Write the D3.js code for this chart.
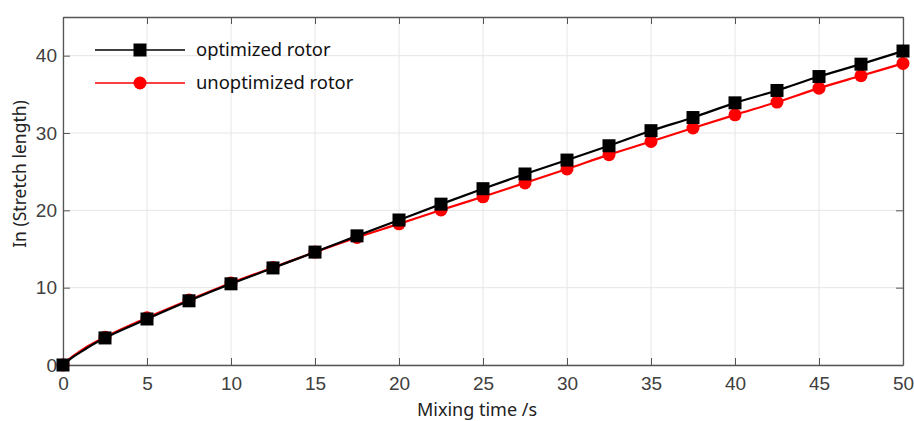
<!doctype html>
<meta charset="utf-8">
<title>Stretch length</title>
<script src="https://cdn.jsdelivr.net/npm/d3@7"></script>
<style>
body { margin: 0; background: #fff; }
</style>
<body>
<script>
// marker positions (s)
var markerTimes = [0, 2.5, 5, 7.5, 10, 12.5, 15, 17.5, 20, 22.5, 25, 27.5, 30, 32.5, 35, 37.5, 40, 42.5, 45, 47.5, 50];
var optimized = [0, 3.5, 5.95, 8.3, 10.5, 12.55, 14.6, 16.7, 18.75, 20.8, 22.8, 24.7, 26.5, 28.35, 30.3, 32.0, 33.9, 35.5, 37.3, 38.9, 40.6];
var unoptimized = [0, 3.6, 6.1, 8.4, 10.6, 12.6, 14.6, 16.5, 18.25, 20.05, 21.75, 23.55, 25.35, 27.2, 28.9, 30.65, 32.35, 34.0, 35.8, 37.4, 39.0];
// extra curve points near the origin
var earlyTimes = [0.5, 1, 1.5];
var earlyOpt = [0.9, 1.6, 2.3];
var earlyUnopt = [1.0, 1.75, 2.45];

var xTicks = [0, 5, 10, 15, 20, 25, 30, 35, 40, 45, 50];
var yTicks = [0, 10, 20, 30, 40];

var width = 914, height = 421;
var m = {left: 63, right: 11, top: 17, bottom: 56};

var svg = d3.select('body').append('svg')
  .attr('width', width)
  .attr('height', height);

var x = d3.scaleLinear().domain([0, 50]).range([m.left, width - m.right]);
var y = d3.scaleLinear().domain([0, 45]).range([height - m.bottom, m.top]);

// grid
svg.append('g').selectAll('line.gx').data(xTicks).enter().append('line')
  .attr('x1', d => x(d)).attr('x2', d => x(d))
  .attr('y1', y(45)).attr('y2', y(0))
  .attr('stroke', '#e6e6e6').attr('stroke-width', 1);
svg.append('g').selectAll('line.gy').data(yTicks).enter().append('line')
  .attr('x1', x(0)).attr('x2', x(50))
  .attr('y1', d => y(d)).attr('y2', d => y(d))
  .attr('stroke', '#e6e6e6').attr('stroke-width', 1);

// axes (ticks inside, matlab style)
var axColor = '#555';
var gBottom = svg.append('g').attr('transform', 'translate(0,' + y(0) + ')')
  .call(d3.axisBottom(x).tickValues(xTicks).tickSizeInner(-7).tickSizeOuter(0).tickPadding(12));
var gLeft = svg.append('g').attr('transform', 'translate(' + x(0) + ',0)')
  .call(d3.axisLeft(y).tickValues(yTicks).tickSizeInner(-7).tickSizeOuter(0).tickPadding(6));
var gTop = svg.append('g').attr('transform', 'translate(0,' + y(45) + ')')
  .call(d3.axisTop(x).tickValues(xTicks).tickSizeInner(-7).tickSizeOuter(0).tickFormat(''));
var gRight = svg.append('g').attr('transform', 'translate(' + x(50) + ',0)')
  .call(d3.axisRight(y).tickValues(yTicks).tickSizeInner(-7).tickSizeOuter(0).tickFormat(''));

[gBottom, gLeft, gTop, gRight].forEach(function(g) {
  g.select('.domain').attr('stroke', axColor).attr('stroke-width', 1.3);
  g.selectAll('.tick line').attr('stroke', axColor);
  g.selectAll('.tick text')
    .attr('fill', '#404040')
    .style('font-family', '"Liberation Sans", Arial, sans-serif')
    .style('font-size', '19px');
});

// series
function series(times, vals, eT, eV) {
  var pts = times.map((t, i) => [t, vals[i]]);
  var linePts = [pts[0]].concat(eT.map((t, i) => [t, eV[i]]), pts.slice(1));
  return {pts: pts, linePts: linePts};
}
var red = series(markerTimes, unoptimized, earlyTimes, earlyUnopt);
var blk = series(markerTimes, optimized, earlyTimes, earlyOpt);

var line = d3.line().x(d => x(d[0])).y(d => y(d[1])).curve(d3.curveMonotoneX);

svg.append('path').datum(red.linePts).attr('d', line)
  .attr('fill', 'none').attr('stroke', '#ff0000').attr('stroke-width', 2.2);
svg.append('g').selectAll('circle').data(red.pts).enter().append('circle')
  .attr('cx', d => x(d[0])).attr('cy', d => y(d[1])).attr('r', 6.5)
  .attr('fill', '#ff0000');

svg.append('path').datum(blk.linePts).attr('d', line)
  .attr('fill', 'none').attr('stroke', '#000').attr('stroke-width', 2.2);
var sq = 13;
svg.append('g').selectAll('rect').data(blk.pts).enter().append('rect')
  .attr('x', d => x(d[0]) - sq / 2).attr('y', d => y(d[1]) - sq / 2)
  .attr('width', sq).attr('height', sq).attr('fill', '#000');

// legend
var legend = [
  {label: 'optimized rotor', color: '#000', shape: 'square', y: 50},
  {label: 'unoptimized rotor', color: '#ff0000', shape: 'circle', y: 83}
];
var lg = svg.append('g').selectAll('g').data(legend).enter().append('g');
lg.append('line').attr('x1', 95).attr('x2', 185)
  .attr('y1', d => d.y).attr('y2', d => d.y)
  .attr('stroke', d => d.color).attr('stroke-width', 1.5);
lg.filter(d => d.shape == 'square').append('rect')
  .attr('x', 140 - sq / 2).attr('y', d => d.y - sq / 2)
  .attr('width', sq).attr('height', sq).attr('fill', d => d.color);
lg.filter(d => d.shape == 'circle').append('circle')
  .attr('cx', 140).attr('cy', d => d.y).attr('r', 6.5).attr('fill', d => d.color);
lg.append('text').attr('x', 196).attr('y', d => d.y + 6)
  .text(d => d.label)
  .style('font-family', '"Noto Sans", sans-serif').style('font-size', '18.4px')
  .attr('fill', '#111');

// axis labels
svg.append('text')
  .attr('x', 477).attr('y', 416)
  .attr('text-anchor', 'middle')
  .style('font-family', '"Noto Sans", sans-serif').style('font-size', '18px')
  .attr('fill', '#222')
  .text('Mixing time /s');
svg.append('text')
  .attr('transform', 'translate(26,174) rotate(-90)')
  .attr('text-anchor', 'middle')
  .style('font-family', '"Noto Sans", sans-serif').style('font-size', '17.5px')
  .attr('fill', '#222')
  .text('In (Stretch length)');
</script>
</body>
